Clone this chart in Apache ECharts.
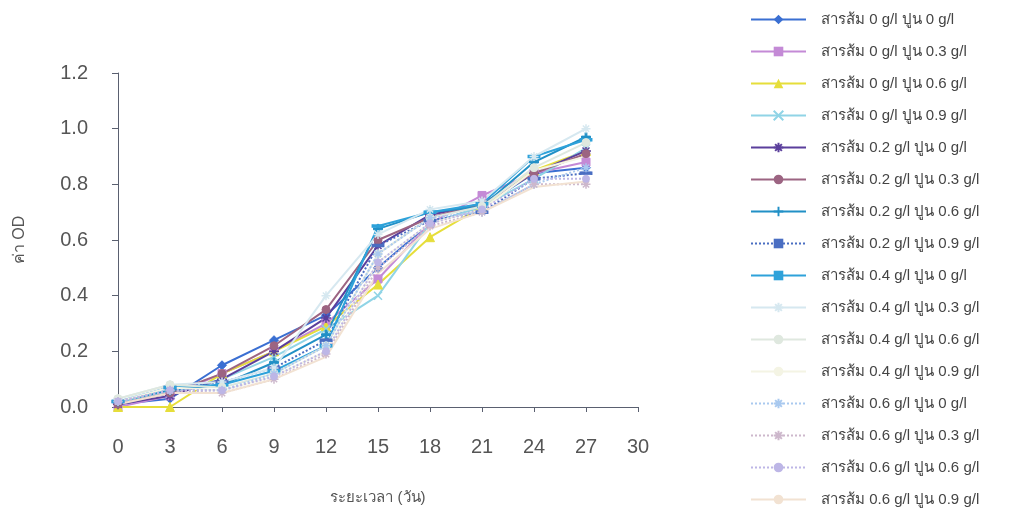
<!DOCTYPE html>
<html>
<head>
<meta charset="utf-8">
<script src="https://cdn.jsdelivr.net/npm/echarts@6/dist/echarts.min.js"></script>
<style>
  html, body { margin: 0; padding: 0; background: #fff; }
  #chart { width: 1031px; height: 519px; }
</style>
</head>
<body>
<div id="chart"></div>
<script>
// days of measurement
const days = [0, 3, 6, 9, 12, 15, 18, 21, 24, 27];

const seriesNames = [
  'สารส้ม 0 g/l ปูน 0 g/l',
  'สารส้ม 0 g/l ปูน 0.3 g/l',
  'สารส้ม 0 g/l ปูน 0.6 g/l',
  'สารส้ม 0 g/l ปูน 0.9 g/l',
  'สารส้ม 0.2 g/l ปูน 0 g/l',
  'สารส้ม 0.2 g/l ปูน 0.3 g/l',
  'สารส้ม 0.2 g/l ปูน 0.6 g/l',
  'สารส้ม 0.2 g/l ปูน 0.9 g/l',
  'สารส้ม 0.4 g/l ปูน 0 g/l',
  'สารส้ม 0.4 g/l ปูน 0.3 g/l',
  'สารส้ม 0.4 g/l ปูน 0.6 g/l',
  'สารส้ม 0.4 g/l ปูน 0.9 g/l',
  'สารส้ม 0.6 g/l ปูน 0 g/l',
  'สารส้ม 0.6 g/l ปูน 0.3 g/l',
  'สารส้ม 0.6 g/l ปูน 0.6 g/l',
  'สารส้ม 0.6 g/l ปูน 0.9 g/l'
];

// OD values, one array per treatment
const od00 = [0.01, 0.03, 0.15, 0.24, 0.33, 0.50, 0.66, 0.72, 0.84, 0.86];
const od003 = [0.00, 0.04, 0.12, 0.20, 0.30, 0.46, 0.66, 0.76, 0.84, 0.88];
const od006 = [0.00, 0.00, 0.12, 0.20, 0.29, 0.44, 0.61, 0.72, 0.85, 0.92];
const od009 = [0.02, 0.05, 0.10, 0.18, 0.28, 0.40, 0.66, 0.72, 0.82, 0.93];
const od020 = [0.01, 0.04, 0.10, 0.20, 0.32, 0.58, 0.69, 0.73, 0.84, 0.92];
const od0203 = [0.01, 0.05, 0.12, 0.22, 0.35, 0.60, 0.68, 0.73, 0.84, 0.91];
const od0206 = [0.02, 0.06, 0.08, 0.16, 0.26, 0.64, 0.70, 0.72, 0.88, 0.97];
const od0209 = [0.02, 0.07, 0.09, 0.14, 0.24, 0.58, 0.67, 0.70, 0.82, 0.84];
const od040 = [0.02, 0.07, 0.08, 0.13, 0.22, 0.65, 0.70, 0.73, 0.90, 0.96];
const od0403 = [0.03, 0.08, 0.09, 0.14, 0.40, 0.62, 0.71, 0.74, 0.90, 1.00];
const od0406 = [0.03, 0.08, 0.07, 0.12, 0.22, 0.55, 0.68, 0.72, 0.86, 0.95];
const od0409 = [0.02, 0.07, 0.06, 0.11, 0.20, 0.52, 0.66, 0.71, 0.85, 0.90];
const od060 = [0.02, 0.06, 0.06, 0.12, 0.22, 0.55, 0.68, 0.70, 0.80, 0.86];
const od0603 = [0.02, 0.06, 0.05, 0.10, 0.19, 0.50, 0.65, 0.70, 0.80, 0.80];
const od0606 = [0.02, 0.06, 0.06, 0.11, 0.20, 0.52, 0.66, 0.71, 0.82, 0.82];
const od0609 = [0.01, 0.05, 0.05, 0.10, 0.18, 0.48, 0.64, 0.70, 0.79, 0.81];

const seriesData = [od00, od003, od006, od009, od020, od0203, od0206, od0209,
  od040, od0403, od0406, od0409, od060, od0603, od0606, od0609];

// excel-like marker shapes
const X_MARK = 'path://M0,0L10,10M10,0L0,10';
const STAR_MARK = 'path://M5,0L5,10M0,5L10,5M1.5,1.5L8.5,8.5M8.5,1.5L1.5,8.5';
const PLUS_MARK = 'path://M4,0H6V4H10V6H6V10H4V6H0V4H4Z';
const DASH_MARK = 'path://M0,0H10V2H0Z';

const styles = [
  { color: '#3a6fd2', symbol: 'diamond', size: 9, type: 'solid' },
  { color: '#c48ad6', symbol: 'rect', size: 8, type: 'solid' },
  { color: '#e6de3a', symbol: 'triangle', size: 9, type: 'solid' },
  { color: '#90d4e6', symbol: X_MARK, size: 8, type: 'solid', stroke: true },
  { color: '#5b3f9c', symbol: STAR_MARK, size: 10, type: 'solid', stroke: true },
  { color: '#9c6482', symbol: 'circle', size: 8, type: 'solid' },
  { color: '#2190c6', symbol: PLUS_MARK, size: 9, type: 'solid' },
  { color: '#4a6ec2', symbol: DASH_MARK, size: [11, 3], type: 'dotted' },
  { color: '#2ea2da', symbol: DASH_MARK, size: [11, 3], type: 'solid' },
  { color: '#d6e8f0', symbol: STAR_MARK, size: 9, type: 'solid', stroke: true },
  { color: '#dfe8df', symbol: 'circle', size: 8, type: 'solid' },
  { color: '#f4f4e4', symbol: 'none', size: 8, type: 'solid' },
  { color: '#a9c9ef', symbol: STAR_MARK, size: 9, type: 'dotted', stroke: true },
  { color: '#cdb8cc', symbol: STAR_MARK, size: 9, type: 'dotted', stroke: true },
  { color: '#bdb6e6', symbol: 'circle', size: 7, type: 'dotted' },
  { color: '#f2e2d2', symbol: 'none', size: 8, type: 'solid' }
];

const chart = echarts.init(document.getElementById('chart'));
const FONT = '"Liberation Sans", Arial, sans-serif';

const series = seriesNames.map((name, i) => {
  const s = styles[i];
  return {
    name: name,
    type: 'line',
    data: days.map((d, k) => [d, seriesData[i][k]]),
    symbol: s.symbol,
    symbolSize: s.size,
    showSymbol: s.symbol !== 'none',
    lineStyle: { color: s.color, width: 2, type: s.type },
    itemStyle: s.stroke
      ? { color: 'none', borderColor: s.color, borderWidth: 1.5 }
      : { color: s.color, borderColor: s.color },
    animation: false
  };
});

chart.setOption({
  backgroundColor: '#fff',
  textStyle: { fontFamily: FONT },
  grid: { left: 118, right: 393, top: 73, bottom: 112 },
  legend: {
    orient: 'vertical',
    left: 745,
    top: 7,
    height: 512,
    itemWidth: 55,
    itemHeight: 12,
    itemGap: 17,
    textStyle: { fontSize: 15, color: '#444', fontFamily: FONT, padding: [0, 0, 0, 10] },
    data: seriesNames
  },
  xAxis: {
    type: 'value',
    min: 0,
    max: 30,
    interval: 3,
    name: 'ระยะเวลา (วัน)',
    nameLocation: 'middle',
    nameGap: 83,
    nameTextStyle: { fontSize: 15, color: '#555' },
    axisLine: { lineStyle: { color: '#5a6070', width: 1 } },
    axisTick: { show: true, length: 5, lineStyle: { color: '#5a6070' } },
    axisLabel: { fontSize: 20, color: '#555', margin: 30 },
    splitLine: { show: false }
  },
  yAxis: {
    type: 'value',
    min: 0,
    max: 1.2,
    interval: 0.2,
    name: 'ค่า OD',
    nameLocation: 'middle',
    nameGap: 90,
    nameTextStyle: { fontSize: 16, color: '#555' },
    axisLine: { show: true, lineStyle: { color: '#5a6070', width: 1 } },
    axisTick: { show: true, length: 6, lineStyle: { color: '#5a6070' } },
    axisLabel: { fontSize: 20, color: '#555', margin: 30, formatter: v => v.toFixed(1) },
    splitLine: { show: false }
  },
  series: series
});
</script>
</body>
</html>
